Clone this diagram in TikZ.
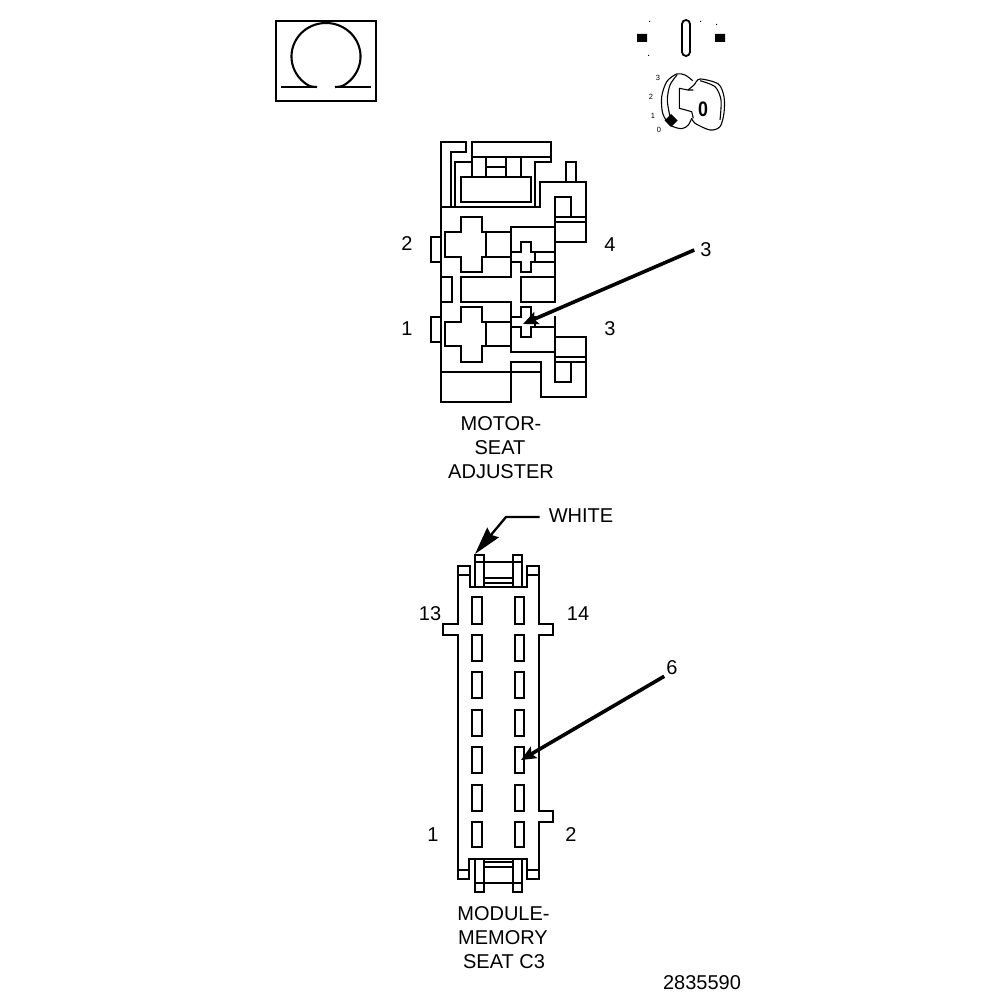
\documentclass[tikz,border=0pt]{standalone}
\usepackage{fontspec}
\setmainfont{Liberation Sans}
\usetikzlibrary{arrows.meta}
\tikzset{
  part/.style={line width=2.7pt,line join=miter,line cap=rect},
  thin part/.style={line width=1.1pt,line join=round},
  lab/.style={font=\fontsize{20}{22}\selectfont,inner sep=0pt,text=black},
  tiny lab/.style={font=\fontsize{7.5}{8}\selectfont,inner sep=0pt,text=black},
  leader/.style={line width=3.6pt,-{Stealth[length=15pt,width=13pt,inset=3pt]},shorten >=0pt},
  dot/.style={fill=black,draw=none}
}
\begin{document}
\begin{tikzpicture}[x=1pt,y=-1pt]
\useasboundingbox (0,0) rectangle (1008,1000);
\fill[white] (0,0) rectangle (1008,1000);
% ohm symbol
\draw[line width=1.9pt] (276,21) rectangle (376,101);
\draw[line width=2.1pt,line join=round] (317,87) .. controls (310,87) and (308,85.5) .. (303.8,82.2) -- plot[domain=130:410,samples=80] ({326+34.5*cos(\x)},{56.5+33.5*sin(\x)}) .. controls (344,85.5) and (342,87) .. (335,87);
\draw[line width=2.8pt] (281,87) -- (317,87) (337,87) -- (371,87);
% key switch
\fill[dot] (637,34) rectangle (647,42) (715,34) rectangle (725,42);
\draw[line width=1.8pt,rounded corners=4pt] (682,20) rectangle (690,56);
\fill[dot] (649,21) rectangle (650,22) (648,55) rectangle (649,56) (700,21) rectangle (701,22) (716,24) rectangle (717,25);
\draw[thin part] plot[smooth] coordinates {(692.7,80.7) (685,75) (676.7,74) (666.7,81.7) (661.7,96.7) (662.7,113.3) (670,125) (681.7,128.7) (688.3,125) (691.7,118.3)};
\draw[thin part] plot[smooth] coordinates {(677,75) (670,85) (667.3,100) (670,116.7)};
\draw[thin part] (693.3,90) -- (688,90) -- (679.3,88.3) -- (679.3,108.3) -- (691.7,111.7) -- (693.3,118.3);
\draw[thin part] plot[smooth] coordinates {(688,90) (694,85) (700,79) (718.3,84) (724,96.7) (724,113) (720,126.7) (710,130) (695,123.3) (691.7,118.3)};
\draw[thin part] plot[smooth] coordinates {(700,80.7) (715,86.7) (721,100) (720,120)};
\fill[dot] (671,114) -- (677.5,120.5) -- (671,127) -- (664.5,120.5) -- cycle;
\node[tiny lab] (k3) at (658,78) {3};
\node[tiny lab] (k2) at (651,97) {2};
\node[tiny lab] (k1) at (653,116) {1};
\node[tiny lab] (k0) at (659,130) {0};
\node[inner sep=0pt,xscale=.85,font=\fontsize{21}{22}\selectfont\bfseries] (kz) at (703,109) {0};
% motor seat adjuster connector
\draw[part] (441,402) -- (441,142) -- (466,142) -- (466,152) -- (451,152) -- (451,207);
\draw[part] (455,207) -- (455,162) -- (472,162);
\draw[part] (472,142) rectangle (551,157);
\draw[part] (472,157) -- (472,177) (486,157) -- (486,177) (506,157) -- (506,177) (521,157) -- (521,177) (486,167) -- (506,167);
\draw[part] (461,177) rectangle (531,202);
\draw[part] (535,207) -- (535,162) -- (551,162) -- (551,157);
\draw[part] (441,207) -- (540,207) -- (540,182) -- (586,182) -- (586,242) -- (555,242);
\draw[part] (566,182) -- (566,162) -- (576,162) -- (576,182);
\draw[part] (555,302) -- (555,197) -- (571,197) -- (571,217);
\draw[part] (555,217) -- (586,217) (555,222) -- (586,222);
\draw[part] (441,237) -- (431,237) -- (431,262) -- (441,262);
% upper big cross
\draw[part] (461,232) -- (461,217) -- (482,217) -- (482,232) -- (486,232) -- (486,257) -- (482,257) -- (482,272) -- (461,272) -- (461,257) -- (445,257) -- (445,232) -- cycle;
\draw[part] (486,232) -- (511,232) (486,257) -- (511,257);
\draw[part] (511,277) -- (511,227) -- (555,227);
% upper small cross
\draw[part] (511,252) -- (521,252) -- (521,242) -- (531,242) -- (531,252) -- (555,252);
\draw[part] (511,262) -- (521,262) -- (521,272) -- (531,272) -- (531,262) -- (555,262);
\draw[part] (535,252) -- (535,262);
% middle
\draw[part] (511,277) -- (461,277) -- (461,302) -- (511,302);
\draw[part] (521,277) rectangle (555,302);
\draw[part] (441,277) -- (452,277) -- (452,302) -- (441,302);
% lower big cross
\draw[part] (441,317) -- (431,317) -- (431,342) -- (441,342);
\draw[part] (461,322) -- (461,307) -- (482,307) -- (482,322) -- (486,322) -- (486,346) -- (482,346) -- (482,362) -- (461,362) -- (461,346) -- (445,346) -- (445,322) -- cycle;
\draw[part] (486,322) -- (511,322) (486,346) -- (511,346);
% lower small cross
\draw[part] (511,302) -- (511,352) -- (555,352);
\draw[part] (511,317) -- (521,317) -- (521,307) -- (531,307) -- (531,317) -- (535,317) -- (535,327);
\draw[part] (511,327) -- (521,327) -- (521,337) -- (531,337) -- (531,327) -- (555,327);
\draw[part] (555,317) -- (555,382) -- (571,382) -- (571,362);
\draw[part] (555,337) -- (586,337) -- (586,397) -- (541,397) -- (541,362) -- (511,362) -- (511,402) -- (441,402);
\draw[part] (555,357) -- (586,357) (555,362) -- (586,362);
\draw[part] (441,372) -- (541,372);
% labels upper
\node[lab] (u2) at (407,244) {2};
\node[lab] (u4) at (610,245) {4};
\node[lab] (u3a) at (706,250) {3};
\node[lab] (u1) at (407,329) {1};
\node[lab] (u3b) at (610,329) {3};
\node[lab] (ma) at (501,424) {MOTOR-};
\node[lab] (mb) at (500,448) {SEAT};
\node[lab] (mc) at (501,472) {ADJUSTER};
\coordinate (pin3) at (523,324);
\draw[leader] (u3a.west) ++(-6,0) coordinate (s3) -- (pin3);
% module connector
\draw[part] (470,587) -- (470,566) -- (458,566) -- (458,624) -- (443,624) -- (443,635) -- (458,635) -- (458,879) -- (469,879) -- (469,859) -- (527,859) -- (527,879) -- (539,879) -- (539,822) -- (553,822) -- (553,811) -- (539,811) -- (539,635) -- (553,635) -- (553,624) -- (539,624) -- (539,566) -- (527,566) -- (527,587) -- cycle;
\draw[part] (458,575) -- (470,575) (527,575) -- (539,575) (458,870) -- (469,870) (527,870) -- (539,870);
% top latch
\draw[part] (475,587) -- (475,555) -- (484,555) -- (484,587) (475,562) -- (484,562);
\draw[part] (513,587) -- (513,555) -- (522,555) -- (522,587) (513,562) -- (522,562);
\draw[part] (484,562) -- (513,562) (484,578) -- (513,578) (484,583) -- (513,583);
% bottom latch
\draw[part] (475,859) -- (475,892) -- (484,892) -- (484,859) (475,883) -- (484,883);
\draw[part] (513,859) -- (513,892) -- (522,892) -- (522,859) (513,883) -- (522,883);
\draw[part] (484,883) -- (513,883) (484,862) -- (513,862) (484,867) -- (513,867);
% cavities
\foreach \t/\b in {597/624,635/661,672/698,710/736,747/773,785/811,822/847}{
  \draw[part] (472,\t) rectangle (482,\b);
  \draw[part] (515,\t) rectangle (524,\b);
}
% labels lower
\node[lab] (l13) at (430,614) {13};
\node[lab] (l14) at (578,614) {14};
\node[lab] (l6) at (672,668) {6};
\node[lab] (l1) at (433,835) {1};
\node[lab] (l2) at (571,835) {2};
\node[lab] (white) at (581,516) {WHITE};
\node[lab] (na) at (503.5,914) {MODULE-};
\node[lab] (nb) at (503,938) {MEMORY};
\node[lab] (nc) at (504,962) {SEAT C3};
\node[lab] (num) at (702,983) {2835590};
\coordinate (pin6) at (521,760);
\coordinate (tipw) at (475,554);
\coordinate (bendw) at (506,517);
\draw[leader] (l6.south west) ++(-2,1) coordinate (s6) -- (pin6);
\draw[line width=2.3pt,-{Stealth[length=28pt,width=15pt,inset=3pt]}] (white.west) ++(-9,1) coordinate (sw) -- (bendw) -- (tipw);
\end{tikzpicture}
\end{document}
